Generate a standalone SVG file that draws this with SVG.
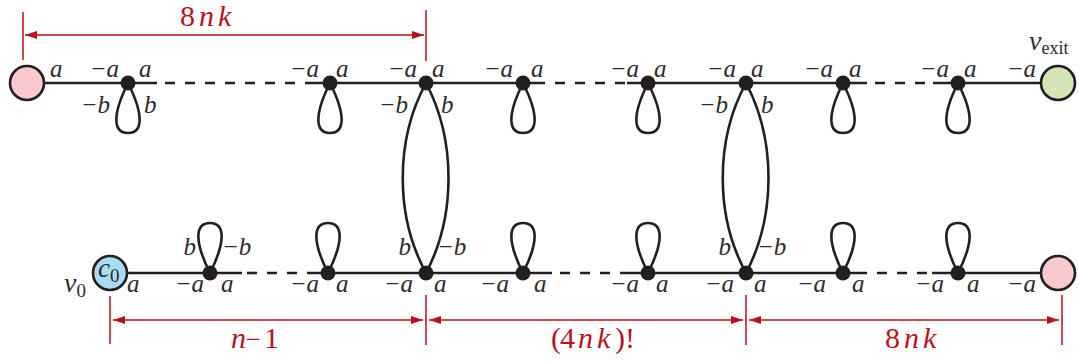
<svg xmlns="http://www.w3.org/2000/svg" width="1079" height="361" viewBox="0 0 1079 361">
<defs>
<style>
.ln{stroke:#231f20;stroke-width:2.6;fill:none}
.ds{stroke:#231f20;stroke-width:2.6;fill:none;stroke-dasharray:10 10}
.dot{fill:#231f20}
.big{stroke:#231f20;stroke-width:2.6}
.lb{font-style:italic;font-size:25px;fill:#2e2b2c}
.up{font-style:normal}
.dim{stroke:#b8121d;stroke-width:1.5;fill:none}
.dt{font-size:30px;fill:#b8121d}
.it{font-style:italic}
</style>
<marker id="ah" viewBox="0 0 12 8" refX="12" refY="4" markerWidth="12" markerHeight="8" markerUnits="userSpaceOnUse" orient="auto-start-reverse">
<path d="M0,0 L12,4 L0,8 Z" fill="#b8121d"/>
</marker>
<path id="loopD" d="M0,0 C-16,32 -15,50 0,50 C15,50 16,32 0,0 Z"/>
</defs>
<rect width="1079" height="361" fill="#fff"/>

<g id="connectors">
<line class="ln" x1="44" y1="83" x2="157" y2="83"/>
<line class="ds" x1="165" y1="83" x2="305" y2="83"/>
<line class="ln" x1="305" y1="83" x2="545" y2="83"/>
<line class="ds" x1="555" y1="83" x2="627" y2="83"/>
<line class="ln" x1="627" y1="83" x2="867" y2="83"/>
<line class="ds" x1="875" y1="83" x2="933" y2="83"/>
<line class="ln" x1="933" y1="83" x2="1040" y2="83"/>
<line class="ln" x1="127" y1="273" x2="242" y2="273"/>
<line class="ds" x1="247" y1="273" x2="307" y2="273"/>
<line class="ln" x1="307" y1="273" x2="552" y2="273"/>
<line class="ds" x1="560" y1="273" x2="627" y2="273"/>
<line class="ln" x1="627" y1="273" x2="867" y2="273"/>
<line class="ds" x1="877" y1="273" x2="932" y2="273"/>
<line class="ln" x1="932" y1="273" x2="1040" y2="273"/>
<use href="#loopD" class="ln" transform="translate(128,83)"/>
<use href="#loopD" class="ln" transform="translate(330,83)"/>
<use href="#loopD" class="ln" transform="translate(523,83)"/>
<use href="#loopD" class="ln" transform="translate(648,83)"/>
<use href="#loopD" class="ln" transform="translate(843,83)"/>
<use href="#loopD" class="ln" transform="translate(958,83)"/>
<use href="#loopD" class="ln" transform="translate(210,273) scale(1,-1)"/>
<use href="#loopD" class="ln" transform="translate(328,273) scale(1,-1)"/>
<use href="#loopD" class="ln" transform="translate(523,273) scale(1,-1)"/>
<use href="#loopD" class="ln" transform="translate(648,273) scale(1,-1)"/>
<use href="#loopD" class="ln" transform="translate(843,273) scale(1,-1)"/>
<use href="#loopD" class="ln" transform="translate(958,273) scale(1,-1)"/>
<path class="ln" d="M426,83 C395,140 395,216 426,273"/>
<path class="ln" d="M426,83 C456,140 456,216 426,273"/>
<path class="ln" d="M746,83 C715,140 715,216 746,273"/>
<path class="ln" d="M746,83 C776,140 776,216 746,273"/>
</g>

<g id="n-start"><circle class="big" cx="27" cy="83" r="17" fill="#f9c9cd"/></g>
<g id="n-exit"><circle class="big" cx="1058" cy="83" r="17" fill="#d4e6b5"/></g>
<g id="n-v0"><circle class="big" cx="110" cy="273" r="17" fill="#a8dcf5"/></g>
<g id="n-end"><circle class="big" cx="1058" cy="273" r="17" fill="#f9c9cd"/></g>

<g id="t1"><circle class="dot" cx="128" cy="83" r="7.5"/></g>
<g id="t2"><circle class="dot" cx="330" cy="83" r="7.5"/></g>
<g id="t3"><circle class="dot" cx="426" cy="83" r="7.5"/></g>
<g id="t4"><circle class="dot" cx="523" cy="83" r="7.5"/></g>
<g id="t5"><circle class="dot" cx="648" cy="83" r="7.5"/></g>
<g id="t6"><circle class="dot" cx="746" cy="83" r="7.5"/></g>
<g id="t7"><circle class="dot" cx="843" cy="83" r="7.5"/></g>
<g id="t8"><circle class="dot" cx="958" cy="83" r="7.5"/></g>
<g id="b1"><circle class="dot" cx="210" cy="273" r="7.5"/></g>
<g id="b2"><circle class="dot" cx="328" cy="273" r="7.5"/></g>
<g id="b3"><circle class="dot" cx="426" cy="273" r="7.5"/></g>
<g id="b4"><circle class="dot" cx="523" cy="273" r="7.5"/></g>
<g id="b5"><circle class="dot" cx="648" cy="273" r="7.5"/></g>
<g id="b6"><circle class="dot" cx="746" cy="273" r="7.5"/></g>
<g id="b7"><circle class="dot" cx="843" cy="273" r="7.5"/></g>
<g id="b8"><circle class="dot" cx="958" cy="273" r="7.5"/></g>

<g id="labels" class="lb" font-family="'Liberation Serif', 'DejaVu Serif', serif">
<text x="50" y="77">a</text>
<text x="119" y="77" text-anchor="end">−a</text><text x="139" y="77">a</text>
<text x="319" y="77" text-anchor="end">−a</text><text x="336" y="77">a</text>
<text x="417" y="77" text-anchor="end">−a</text><text x="432" y="77">a</text>
<text x="513" y="77" text-anchor="end">−a</text><text x="531" y="77">a</text>
<text x="639" y="77" text-anchor="end">−a</text><text x="654" y="77">a</text>
<text x="736" y="77" text-anchor="end">−a</text><text x="751" y="77">a</text>
<text x="833" y="77" text-anchor="end">−a</text><text x="849" y="77">a</text>
<text x="949" y="77" text-anchor="end">−a</text><text x="964" y="77">a</text>
<text x="1036" y="77" text-anchor="end">−a</text>
<text x="110" y="113" text-anchor="end">−b</text><text x="144" y="113">b</text>
<text x="408" y="113" text-anchor="end">−b</text><text x="441" y="113">b</text>
<text x="728" y="113" text-anchor="end">−b</text><text x="761" y="113">b</text>
<text x="127" y="292">a</text>
<text x="204" y="292" text-anchor="end">−a</text><text x="221" y="292">a</text>
<text x="319" y="292" text-anchor="end">−a</text><text x="336" y="292">a</text>
<text x="413" y="292" text-anchor="end">−a</text><text x="434" y="292">a</text>
<text x="509" y="292" text-anchor="end">−a</text><text x="534" y="292">a</text>
<text x="639" y="292" text-anchor="end">−a</text><text x="656" y="292">a</text>
<text x="734" y="292" text-anchor="end">−a</text><text x="754" y="292">a</text>
<text x="826" y="292" text-anchor="end">−a</text><text x="852" y="292">a</text>
<text x="944" y="292" text-anchor="end">−a</text><text x="967" y="292">a</text>
<text x="1036" y="292" text-anchor="end">−a</text>
<text x="196" y="255" text-anchor="end">b</text><text x="222" y="255">−b</text>
<text x="411" y="255" text-anchor="end">b</text><text x="437" y="255">−b</text>
<text x="731" y="255" text-anchor="end">b</text><text x="757" y="255">−b</text>
<text x="1029" y="50" font-size="28">v<tspan class="up" font-size="18" dy="4">exit</tspan></text>
<text x="64" y="292" font-size="28">v<tspan class="up" font-size="19" dy="5">0</tspan></text>
<text x="98" y="277" font-size="27">c<tspan class="up" font-size="19" dy="5">0</tspan></text>
</g>

<g id="dimensions" font-family="'Liberation Serif', 'DejaVu Serif', serif">
<line class="dim" x1="23" y1="12" x2="23" y2="60"/>
<line class="dim" x1="426" y1="10" x2="426" y2="61"/>
<line class="dim" x1="25" y1="35" x2="424" y2="35" marker-start="url(#ah)" marker-end="url(#ah)"/>
<line class="dim" x1="110" y1="296" x2="110" y2="344"/>
<line class="dim" x1="426" y1="295" x2="426" y2="345"/>
<line class="dim" x1="746" y1="295" x2="746" y2="345"/>
<line class="dim" x1="1062" y1="295" x2="1062" y2="345"/>
<line class="dim" x1="113" y1="320" x2="423" y2="320" marker-start="url(#ah)" marker-end="url(#ah)"/>
<line class="dim" x1="429" y1="320" x2="743" y2="320" marker-start="url(#ah)" marker-end="url(#ah)"/>
<line class="dim" x1="749" y1="320" x2="1059" y2="320" marker-start="url(#ah)" marker-end="url(#ah)"/>
<text class="dt" y="26"><tspan x="180">8</tspan><tspan class="it" x="199">n</tspan><tspan class="it" x="218">k</tspan></text>
<text class="dt" y="348"><tspan class="it" x="231">n</tspan><tspan x="246" font-size="26">−</tspan><tspan x="264">1</tspan></text>
<text class="dt" y="348"><tspan x="551">(</tspan><tspan x="560">4</tspan><tspan class="it" x="578">n</tspan><tspan class="it" x="597">k</tspan><tspan x="615">)!</tspan></text>
<text class="dt" y="348"><tspan x="885">8</tspan><tspan class="it" x="904">n</tspan><tspan class="it" x="923">k</tspan></text>
</g>
</svg>
